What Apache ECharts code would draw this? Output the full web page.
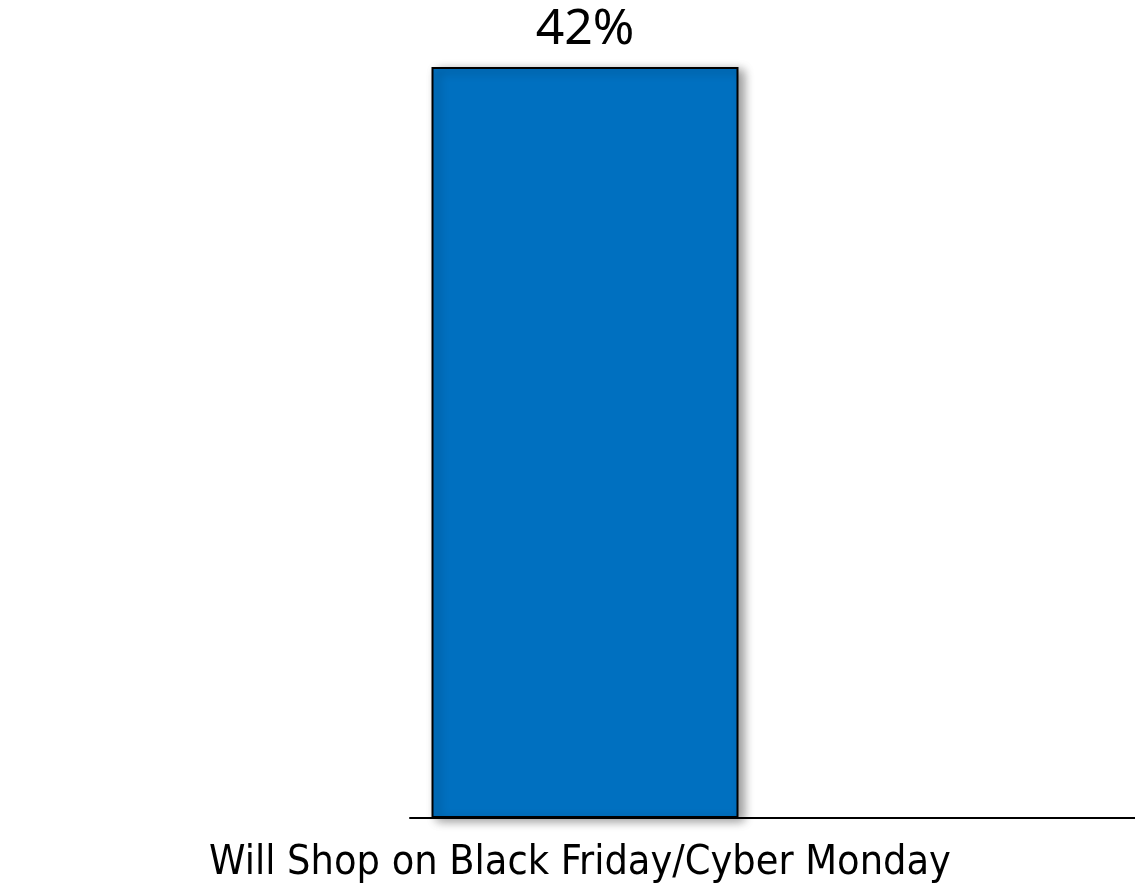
<!DOCTYPE html>
<html>
<head>
<meta charset="utf-8">
<script src="https://cdn.jsdelivr.net/npm/echarts@6/dist/echarts.min.js"></script>
<style>
  html, body { margin: 0; padding: 0; background: #ffffff; }
  #chart { width: 1135px; height: 885px; }
</style>
</head>
<body>
<div id="chart"></div>
<script>
// Share of shoppers planning to buy on the Black Friday / Cyber Monday weekend
const categories = ['Will Shop on Black Friday/Cyber Monday'];
const shareValues = [42];
const valueSuffix = '%';

const chart = echarts.init(document.getElementById('chart'), null, { renderer: 'canvas' });

chart.setOption({
  animation: false,
  backgroundColor: '#ffffff',
  grid: [
    // plot area holding the bar
    { left: 410, width: 350, top: 67, bottom: 67 },
    // full-width baseline running to the right edge
    { left: 410, right: 0, top: 67, bottom: 67 }
  ],
  xAxis: [
    {
      type: 'category',
      gridIndex: 0,
      data: categories,
      axisLine: { show: false },
      axisTick: { show: false },
      axisLabel: {
        margin: 25,
        fontFamily: 'DejaVu Sans Condensed',
        fontSize: 41,
        color: '#000000',
        padding: [0, 10, 0, 0],
        overflow: 'none',
        width: 1000
      }
    },
    {
      type: 'category',
      gridIndex: 1,
      data: [''],
      axisLine: { show: true, lineStyle: { color: '#000000', width: 2 } },
      axisTick: { show: false },
      axisLabel: { show: false }
    }
  ],
  yAxis: [
    { type: 'value', gridIndex: 0, min: 0, max: 42, show: false },
    { type: 'value', gridIndex: 1, min: 0, max: 42, show: false }
  ],
  series: [
    {
      type: 'bar',
      xAxisIndex: 0,
      yAxisIndex: 0,
      data: shareValues,
      barWidth: 307,
      itemStyle: {
        color: '#0070C0',
        borderColor: '#000000',
        borderWidth: 2,
        shadowColor: 'rgba(0,0,0,0.4)',
        shadowBlur: 10,
        shadowOffsetX: 5,
        shadowOffsetY: 3
      },
      label: {
        show: true,
        position: 'top',
        distance: 12,
        formatter: p => p.value + valueSuffix,
        fontFamily: 'Noto Sans',
        fontSize: 50,
        color: '#000000'
      }
    }
  ]
});
</script>
</body>
</html>
